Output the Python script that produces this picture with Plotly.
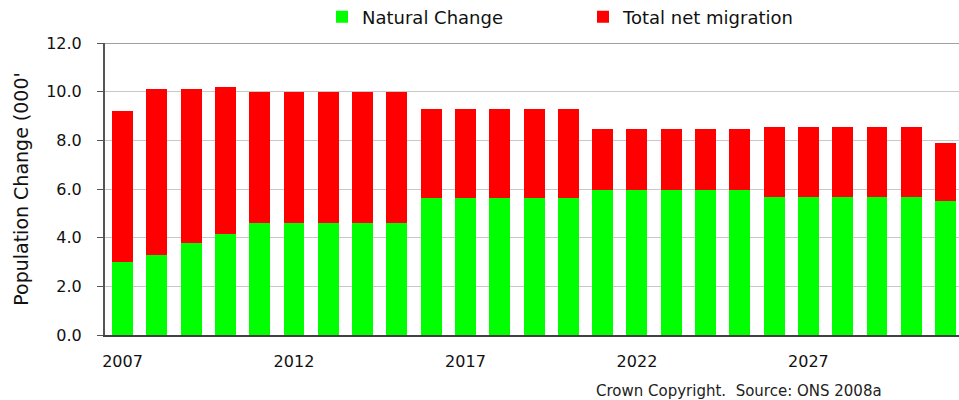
import plotly.graph_objects as go

years = list(range(2007, 2032))
natural_change = [3.0, 3.3, 3.8, 4.15, 4.6, 4.6, 4.6, 4.6, 4.6,
                  5.65, 5.65, 5.65, 5.65, 5.65,
                  5.97, 5.97, 5.97, 5.97, 5.97,
                  5.68, 5.68, 5.68, 5.68, 5.68, 5.5]
net_migration = [6.2, 6.8, 6.3, 6.03, 5.4, 5.4, 5.4, 5.4, 5.4,
                 3.65, 3.65, 3.65, 3.65, 3.65,
                 2.51, 2.51, 2.51, 2.51, 2.51,
                 2.85, 2.85, 2.85, 2.85, 2.85, 2.4]
x_tick_vals = [2007, 2012, 2017, 2022, 2027]
x_tick_text = ["2007", "2012", "2017", "2022", "2027"]
y_tick_vals = [0, 2, 4, 6, 8, 10, 12]

FONT = "DejaVu Sans"

fig = go.Figure()
fig.add_trace(go.Bar(x=years, y=natural_change, name="Natural Change",
                     marker=dict(color="#00ff00", line=dict(width=0))))
fig.add_trace(go.Bar(x=years, y=net_migration, name="Total net migration",
                     marker=dict(color="#ff0000", line=dict(width=0))))

fig.update_layout(
    barmode="stack",
    bargap=0.39,
    width=959, height=400,
    margin=dict(l=105, r=0, t=43, b=65, autoexpand=False),
    paper_bgcolor="white", plot_bgcolor="white",
    font=dict(family=FONT, color="#111111"),
    legend=dict(orientation="h", traceorder="normal",
                x=(322 - 105) / 854, xanchor="left", y=1 + 26 / 292, yanchor="middle",
                font=dict(family=FONT, size=18, color="#111111"),
                entrywidth=216, itemwidth=30, bgcolor="rgba(0,0,0,0)"),
    xaxis=dict(range=[2006.49, 2031.39], tickvals=x_tick_vals, ticktext=x_tick_text,
               showgrid=False, zeroline=False, showline=True, linecolor="#404040",
               linewidth=2, ticks="", ticklabelstandoff=11, automargin=False,
               tickfont=dict(family=FONT, size=16, color="#111111")),
    yaxis=dict(range=[0, 12], tickvals=y_tick_vals, tickformat=".1f",
               showgrid=True, gridcolor="#c8c8c8", gridwidth=1, zeroline=False,
               showline=True, linecolor="#555555", linewidth=2,
               ticks="outside", ticklen=6, tickcolor="#555555", tickwidth=1,
               ticklabelstandoff=12, automargin=False,
               tickfont=dict(family=FONT, size=16, color="#111111"),
               title=dict(text="Population Change (000'", standoff=13,
                          font=dict(family=FONT, size=19, color="#111111"))),
    shapes=[dict(type="line", xref="paper", yref="y", x0=0, x1=1, y0=12, y1=12,
                 line=dict(color="#a0a0a0", width=2))],
    annotations=[dict(text="Crown Copyright.  Source: ONS 2008a", xref="paper", yref="paper",
                      x=(739 - 105) / 854, y=0, yshift=-56,
                      xanchor="center", yanchor="middle", showarrow=False,
                      font=dict(family=FONT, size=15, color="#222222"))],
)

fig.write_html("out.html", config={"displayModeBar": False},
               post_script="document.body.style.margin='0px';document.body.style.overflow='hidden';")
